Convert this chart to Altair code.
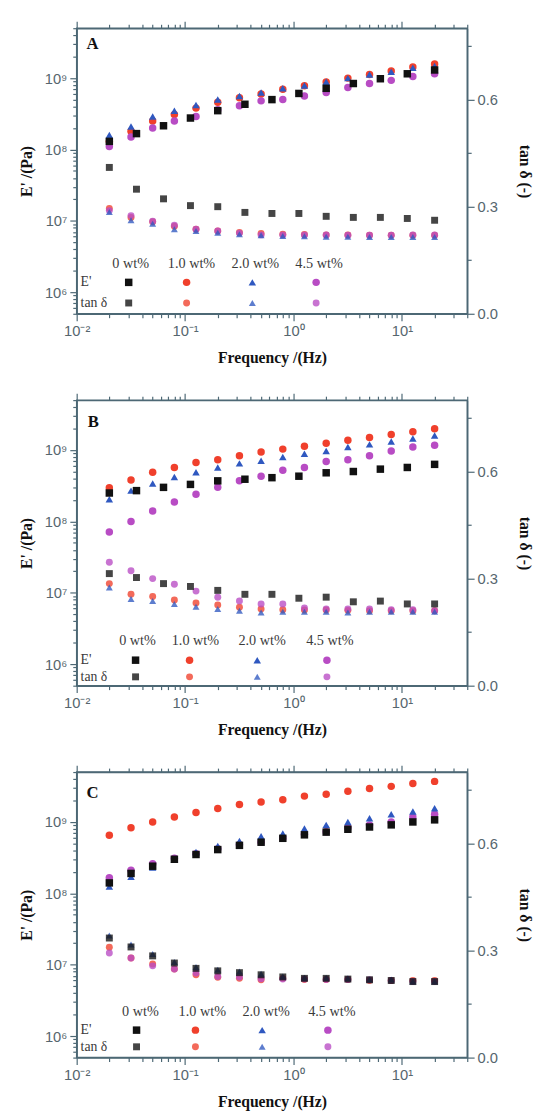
import altair as alt
import pandas as pd

# ---------------- data ----------------
FREQ16 = [0.02, 0.0317, 0.0502, 0.0796, 0.126, 0.2, 0.317, 0.502, 0.796, 1.26,
          2.0, 3.17, 5.02, 7.96, 12.6, 20.0]
FREQ13 = [0.02, 0.0356, 0.0632, 0.112, 0.2, 0.356, 0.632, 1.12, 2.0, 3.56, 6.32, 11.2, 20.0]

SERIES = ["0 wt%", "1.0 wt%", "2.0 wt%", "4.5 wt%"]
COLORS = ["#111111", "#f0402c", "#2f58c0", "#b84cc4"]
SHAPES = ["square", "circle", "triangle-up", "circle"]

# Panel A
A_E0 = [1.3e8, 1.67e8, 2.15e8, 2.76e8, 3.5e8, 4.3e8, 5.0e8, 6.1e8, 7.2e8, 8.4e8, 9.8e8, 1.15e9, 1.3e9]
A_T0 = [0.41, 0.349, 0.322, 0.303, 0.30, 0.284, 0.281, 0.281, 0.273, 0.27, 0.27, 0.267, 0.262]
A_E1 = [1.3e8, 1.8e8, 2.5e8, 3.1e8, 3.8e8, 4.6e8, 5.3e8, 6.0e8, 7.0e8, 7.8e8, 8.8e8, 1.0e9, 1.12e9, 1.26e9, 1.43e9, 1.58e9]
A_T1 = [0.295, 0.27, 0.258, 0.245, 0.237, 0.232, 0.228, 0.225, 0.223, 0.222, 0.221, 0.221, 0.22, 0.22, 0.22, 0.22]
A_E2 = [1.6e8, 2.1e8, 2.9e8, 3.5e8, 4.2e8, 5.0e8, 5.6e8, 6.3e8, 7.2e8, 7.9e8, 8.9e8, 1.0e9, 1.12e9, 1.23e9, 1.4e9, 1.48e9]
A_T2 = [0.285, 0.262, 0.252, 0.237, 0.232, 0.227, 0.223, 0.22, 0.218, 0.217, 0.216, 0.216, 0.215, 0.215, 0.215, 0.215]
A_E4 = [1.1e8, 1.5e8, 2.0e8, 2.5e8, 2.9e8, 3.6e8, 4.1e8, 4.8e8, 5.0e8, 5.6e8, 6.3e8, 7.4e8, 8.4e8, 9.3e8, 1.05e9, 1.15e9]
A_T4 = [0.289, 0.275, 0.259, 0.248, 0.237, 0.232, 0.226, 0.221, 0.221, 0.221, 0.221, 0.22, 0.22, 0.22, 0.221, 0.221]

# Panel B
B_E0 = [2.5e8, 2.7e8, 3.0e8, 3.3e8, 3.7e8, 3.9e8, 4.1e8, 4.3e8, 4.8e8, 5.0e8, 5.4e8, 5.7e8, 6.3e8]
B_T0 = [0.314, 0.303, 0.286, 0.278, 0.267, 0.256, 0.256, 0.245, 0.248, 0.235, 0.237, 0.229, 0.229]
B_E1 = [2.97e8, 3.8e8, 4.9e8, 5.7e8, 6.7e8, 7.3e8, 8.3e8, 9.4e8, 1.03e9, 1.13e9, 1.24e9, 1.37e9, 1.5e9, 1.65e9, 1.8e9, 1.98e9]
B_T1 = [0.286, 0.256, 0.25, 0.24, 0.232, 0.226, 0.22, 0.215, 0.213, 0.212, 0.212, 0.211, 0.21, 0.21, 0.21, 0.21]
B_E2 = [2.05e8, 2.7e8, 3.4e8, 4.2e8, 4.9e8, 5.7e8, 6.5e8, 7.1e8, 8.0e8, 8.9e8, 9.7e8, 1.1e9, 1.2e9, 1.32e9, 1.45e9, 1.6e9]
B_T2 = [0.275, 0.243, 0.237, 0.229, 0.221, 0.215, 0.21, 0.205, 0.207, 0.207, 0.207, 0.205, 0.207, 0.207, 0.207, 0.207]
B_E4 = [7.1e7, 1.0e8, 1.4e8, 1.87e8, 2.4e8, 3.0e8, 3.7e8, 4.3e8, 5.2e8, 5.7e8, 6.9e8, 7.3e8, 8.3e8, 9.7e8, 1.1e9, 1.17e9]
B_T4 = [0.346, 0.322, 0.30, 0.284, 0.265, 0.248, 0.237, 0.229, 0.229, 0.218, 0.215, 0.215, 0.215, 0.213, 0.213, 0.21]

# Panel C
C_E0 = [1.4e8, 1.9e8, 2.4e8, 3.0e8, 3.5e8, 4.1e8, 4.7e8, 5.2e8, 5.9e8, 6.6e8, 7.2e8, 7.9e8, 8.5e8, 9.1e8, 1.0e9, 1.07e9]
C_T0 = [0.335, 0.31, 0.285, 0.265, 0.25, 0.243, 0.238, 0.232, 0.226, 0.222, 0.222, 0.22, 0.218, 0.216, 0.213, 0.213]
C_E1 = [6.5e8, 8.3e8, 1.0e9, 1.17e9, 1.36e9, 1.54e9, 1.75e9, 1.9e9, 2.04e9, 2.3e9, 2.45e9, 2.7e9, 2.95e9, 3.15e9, 3.45e9, 3.7e9]
C_T1 = [0.309, 0.279, 0.262, 0.248, 0.232, 0.225, 0.222, 0.218, 0.222, 0.219, 0.219, 0.219, 0.216, 0.216, 0.216, 0.216]
C_E2 = [1.25e8, 1.7e8, 2.3e8, 3.0e8, 3.8e8, 4.6e8, 5.4e8, 6.3e8, 6.9e8, 8.1e8, 9.1e8, 1.0e9, 1.13e9, 1.28e9, 1.4e9, 1.55e9]
C_T2 = [0.342, 0.317, 0.29, 0.268, 0.254, 0.246, 0.241, 0.235, 0.227, 0.224, 0.224, 0.222, 0.219, 0.219, 0.213, 0.213]
C_E4 = [1.66e8, 2.1e8, 2.6e8, 3.1e8, 3.6e8, 4.2e8, 4.8e8, 5.2e8, 5.9e8, 6.7e8, 7.3e8, 8.3e8, 9.1e8, 1.0e9, 1.17e9, 1.28e9]
C_T4 = [0.293, 0.279, 0.257, 0.248, 0.237, 0.227, 0.226, 0.221, 0.22, 0.22, 0.219, 0.219, 0.218, 0.216, 0.213, 0.213]

X_TICK_VALUES = [0.01, 0.1, 1.0, 10.0]
X_TICK_LABELS = ["10⁻²", "10⁻¹", "10⁰", "10¹"]
Y_TICK_VALUES = [1e6, 1e7, 1e8, 1e9]
Y_TICK_LABELS = ["10⁶", "10⁷", "10⁸", "10⁹"]
TAN_TICK_VALUES = [0.0, 0.3, 0.6]
TAN_TICK_LABELS = ["0.0", "0.3", "0.6"]
TAN_MINOR = [0.15, 0.45, 0.75]

X_DOMAIN = [0.01, 40]
E_DOMAIN = [5e5, 5e9]
T_DOMAIN = [0, 0.8]

X_MINOR = [m * 10.0 ** k for k in (-2, -1, 0, 1) for m in range(2, 10) if m * 10.0 ** k <= 40]
Y_MINOR = [m * 10.0 ** k for k in (5, 6, 7, 8, 9) for m in range(2, 10) if 5e5 <= m * 10.0 ** k <= 5e9]

AXIS_COLOR = "#4d6875"
LABEL_COLOR = "#56666e"


def label_expr(values, labels):
    s = ""
    for v, l in zip(values, labels):
        s += f"datum.value == {v!r} ? '{l}' : "
    return s + "''"


def major_test(values):
    return "indexof([" + ",".join(repr(v) for v in values) + "], datum.value) >= 0"


def tick_size(values):
    return {"condition": {"test": major_test(values), "value": 7}, "value": 4}


def build_df(e_lists, t_lists, freqs):
    rows = []
    for idx in [1, 3, 2, 0]:  # draw order
        for f, e, t in zip(freqs[idx], e_lists[idx], t_lists[idx]):
            rows.append({"f": f, "E": e, "T": t, "s": SERIES[idx]})
    return pd.DataFrame(rows)


color_enc = alt.Color("s:N", scale=alt.Scale(domain=SERIES, range=COLORS), legend=None)
shape_enc = alt.Shape("s:N", scale=alt.Scale(domain=SERIES, range=SHAPES), legend=None)

x_scale = alt.Scale(type="log", domain=X_DOMAIN, nice=False)

x_axis_bottom = alt.Axis(
    orient="bottom", title="Frequency /(Hz)", values=X_TICK_VALUES + X_MINOR,
    labelExpr=label_expr(X_TICK_VALUES, X_TICK_LABELS), tickSize=tick_size(X_TICK_VALUES),
    grid=False, labelPadding=3, titlePadding=12, labelFlush=False, labelOverlap=False)
x_axis_top = alt.Axis(
    orient="top", title=None, values=X_TICK_VALUES + X_MINOR, labels=False,
    tickSize=tick_size(X_TICK_VALUES), grid=False)
y_axis_left = alt.Axis(
    orient="left", title="E' /(Pa)", values=Y_TICK_VALUES + Y_MINOR,
    labelExpr=label_expr(Y_TICK_VALUES, Y_TICK_LABELS), tickSize=tick_size(Y_TICK_VALUES),
    grid=False, labelPadding=3, titlePadding=10, labelFlush=False, labelOverlap=False)
y_axis_right = alt.Axis(
    orient="right", title="tan δ (-)", values=TAN_TICK_VALUES + TAN_MINOR,
    labelExpr=label_expr(TAN_TICK_VALUES, TAN_TICK_LABELS), tickSize=tick_size(TAN_TICK_VALUES),
    grid=False, labelPadding=3, titlePadding=19, labelFlush=False, labelOverlap=False)

ONE = pd.DataFrame({"d": [0]})
E_SIZE = 58
T_SIZE = 50
T_OPACITY = 0.78


def panel(letter, df, leg):
    base = alt.Chart(df)
    e_layer = base.mark_point(filled=True, size=E_SIZE, opacity=1).encode(
        x=alt.X("f:Q", scale=x_scale, axis=x_axis_bottom),
        y=alt.Y("E:Q", scale=alt.Scale(type="log", domain=E_DOMAIN, nice=False), axis=y_axis_left),
        color=color_enc, shape=shape_enc)
    t_layer = base.mark_point(filled=True, size=T_SIZE, opacity=T_OPACITY).encode(
        x=alt.X("f:Q", scale=x_scale, axis=x_axis_top),
        y=alt.Y("T:Q", scale=alt.Scale(domain=T_DOMAIN, nice=False, zero=False), axis=y_axis_right),
        color=color_enc, shape=shape_enc)
    layers = [e_layer, t_layer]
    # panel letter
    layers.append(alt.Chart(ONE).mark_text(
        text=letter, font="Liberation Serif", fontWeight="bold", fontSize=17, color="#111",
        align="center", baseline="middle").encode(x=alt.value(leg["letter"][0]), y=alt.value(leg["letter"][1])))
    # legend texts
    for name, lx in zip(SERIES, leg["label_x"]):
        layers.append(alt.Chart(ONE).mark_text(
            text=name, font="Liberation Serif", fontSize=14.5, color="#3a3a3a",
            align="center", baseline="middle").encode(x=alt.value(lx), y=alt.value(leg["label_y"])))
    layers.append(alt.Chart(ONE).mark_text(
        text="E'", font="Liberation Serif", fontSize=14, color="#3a3a3a",
        align="left", baseline="middle").encode(x=alt.value(4), y=alt.value(leg["e_y"])))
    layers.append(alt.Chart(ONE).mark_text(
        text="tan δ", font="Liberation Serif", fontSize=14, color="#3a3a3a",
        align="left", baseline="middle").encode(x=alt.value(4), y=alt.value(leg["t_y"])))
    for col, shp, mx in zip(COLORS, SHAPES, leg["mark_x"]):
        layers.append(alt.Chart(ONE).mark_point(
            shape=shp, filled=True, color=col, size=E_SIZE, opacity=1).encode(
            x=alt.value(mx), y=alt.value(leg["e_y"])))
        layers.append(alt.Chart(ONE).mark_point(
            shape=shp, filled=True, color=col, size=T_SIZE, opacity=T_OPACITY).encode(
            x=alt.value(mx), y=alt.value(leg["t_y"])))
    return alt.layer(*layers).resolve_scale(y="independent").resolve_axis(
        x="independent", y="independent").properties(width=398, height=291)


dfA = build_df([A_E0, A_E1, A_E2, A_E4], [A_T0, A_T1, A_T2, A_T4], [FREQ13, FREQ16, FREQ16, FREQ16])
dfB = build_df([B_E0, B_E1, B_E2, B_E4], [B_T0, B_T1, B_T2, B_T4], [FREQ13, FREQ16, FREQ16, FREQ16])
dfC = build_df([C_E0, C_E1, C_E2, C_E4], [C_T0, C_T1, C_T2, C_T4], [FREQ16, FREQ16, FREQ16, FREQ16])

legA = {"letter": (16, 16), "label_x": [55, 117, 182, 247], "label_y": 240, "e_y": 259, "t_y": 280,
        "mark_x": [53, 112, 179, 244]}
legB = {"letter": (17, 22), "label_x": [62, 121, 189, 258], "label_y": 246, "e_y": 265, "t_y": 282,
        "mark_x": [60, 115, 184, 255]}
legC = {"letter": (16, 21), "label_x": [65, 128, 193, 260], "label_y": 245, "e_y": 263, "t_y": 280,
        "mark_x": [61, 121, 189, 256]}

chart = alt.vconcat(
    panel("A", dfA, legA), panel("B", dfB, legB), panel("C", dfC, legC), spacing=25
).properties(
    padding={"left": 10, "top": 1, "right": 0, "bottom": 0}
).configure_view(
    stroke=AXIS_COLOR, strokeWidth=1.5
).configure_axis(
    domainColor=AXIS_COLOR, domainWidth=1.5, tickColor=AXIS_COLOR, tickWidth=1.2,
    labelFont="Liberation Sans", labelFontSize=15, labelColor=LABEL_COLOR,
    titleFont="Liberation Serif", titleFontWeight="bold", titleFontSize=16, titleColor="#111111"
)

chart.save("out.html", embed_options={"renderer": "svg", "actions": False})
